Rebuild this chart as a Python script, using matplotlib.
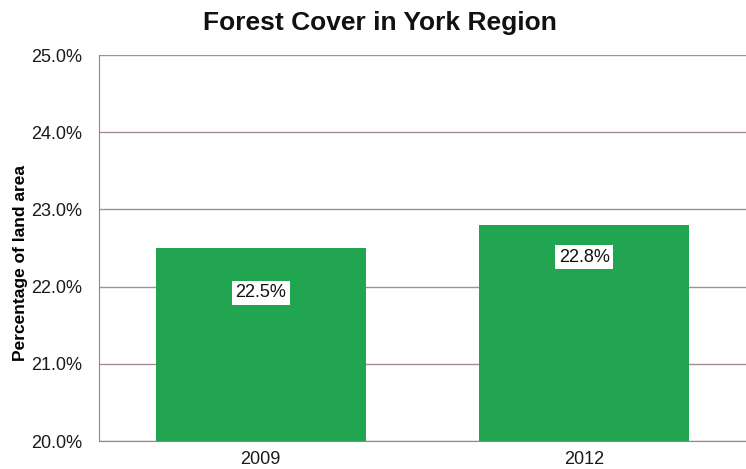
import matplotlib.pyplot as plt

years = ['2009', '2012']
cover = [22.5, 22.8]
label_drop = [0.58, 0.42]  # how far below the bar top each value label sits
yticks = [20, 21, 22, 23, 24, 25]

plt.rcParams['font.family'] = ['Liberation Sans', 'DejaVu Sans']

fig = plt.figure(figsize=(7.46, 4.69), dpi=100)
ax = fig.add_axes([99 / 746, 1 - 441 / 469, 647 / 746, 386 / 469])

x = range(len(years))
ax.bar(x, cover, width=0.65, color='#22a550', zorder=2)

for i, v in enumerate(cover):
    ax.text(i, v - label_drop[i], f'{v:.1f}%', ha='center', va='center',
            fontsize=13, color='#111111', zorder=3,
            bbox=dict(facecolor='white', edgecolor='none', pad=2.5))

ax.set_xlim(-0.5, 1.5)
ax.set_ylim(20, 25)
ax.set_yticks(yticks)
ax.set_yticklabels([f'{t:.1f}%' for t in yticks])
ax.set_xticks(list(x))
ax.set_xticklabels(years)
ax.tick_params(axis='both', length=0, labelsize=13, labelcolor='#1a1a1a')
ax.tick_params(axis='y', pad=12)
ax.tick_params(axis='x', pad=7)

ax.grid(axis='y', color='#a88f8f', linewidth=1, zorder=1)
ax.set_axisbelow(True)
for s in ['top', 'right']:
    ax.spines[s].set_visible(False)
ax.spines['left'].set_color('#8a8a8a')
ax.spines['bottom'].set_color('#8a8a8a')

ax.set_ylabel('Percentage of land area', fontsize=12.5, fontweight='bold')
ax.yaxis.set_label_coords(-0.11, 0.46)

fig.text(380 / 746, 1 - 23 / 469, 'Forest Cover in York Region', ha='center',
         va='center', fontsize=19, fontweight='bold', color='#111111')

fig.savefig('out.png', dpi=100)
